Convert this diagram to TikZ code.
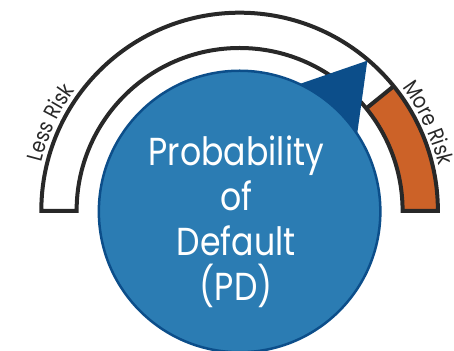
\documentclass[tikz,border=0pt]{standalone}
\usepackage{fontspec}
\setmainfont{Poppins}
\newfontfamily\pdfont[FakeStretch=0.85]{Poppins}
\newfontfamily\lblfont[FakeStretch=0.85]{Poppins}
\usetikzlibrary{decorations.text}
\definecolor{pdblue}{RGB}{43,124,179}
\definecolor{pddark}{RGB}{12,78,138}
\definecolor{pdorange}{RGB}{204,98,40}
\definecolor{pdgray}{RGB}{40,40,40}
\tikzset{
  bandline/.style={draw=pdgray, line width=4pt, line join=miter},
  bigtext/.style={text=white, anchor=base, inner sep=0pt, font=\pdfont\fontsize{39}{45}\selectfont},
  risklabel/.style={decorate, decoration={text along path, text align=center, text color=pdgray}}
}
\begin{document}
\begin{tikzpicture}[x=1pt,y=1pt]
\useasboundingbox (0,0) rectangle (454,350);
\coordinate (c) at (239.6,139);
% band fill
\fill[white] ([shift={(0:198.3)}]c) arc[start angle=0,end angle=180,radius=198.3]
  -- ([shift={(180:163)}]c) arc[start angle=180,end angle=0,radius=163] -- cycle;
% orange segment
\fill[pdorange] ([shift={(0:198.3)}]c) arc[start angle=0,end angle=39,radius=198.3]
  -- ([shift={(39:163)}]c) arc[start angle=39,end angle=0,radius=163] -- cycle;
% band outline
\path[bandline] ([shift={(0:198.3)}]c) arc[start angle=0,end angle=180,radius=198.3]
  -- ([shift={(180:163)}]c) arc[start angle=180,end angle=0,radius=163] -- cycle;
\path[bandline] ([shift={(39:163)}]c) -- ([shift={(39:198.3)}]c);
% pointer
\fill[pddark] (367.3,289.3) -- (288.6,262.2) -- (354.6,197.7) -- cycle;
% circle
\node[circle, fill=pdblue, draw=pddark, line width=2.5pt, minimum size=281.5pt, inner sep=0pt] (pd) at (239.6,138.5) {};
\node[bigtext] (l1) at (236.3,184) {Probability};
\node[bigtext] (l2) at (236.3,139.5) {of};
\node[bigtext] (l3) at (236.3,94) {Default};
\node[bigtext] (l4) at (236.3,49) {(PD)};
% labels
{\lblfont\fontsize{22}{22}\selectfont
\path[risklabel, decoration={text={Less Risk}}]
  ([shift={(180:204)}]c) arc[start angle=180,end angle=130,radius=204];
\path[risklabel, decoration={text={More Risk}}]
  ([shift={(50:204)}]c) arc[start angle=50,end angle=0,radius=204];
}
\end{tikzpicture}
\end{document}
